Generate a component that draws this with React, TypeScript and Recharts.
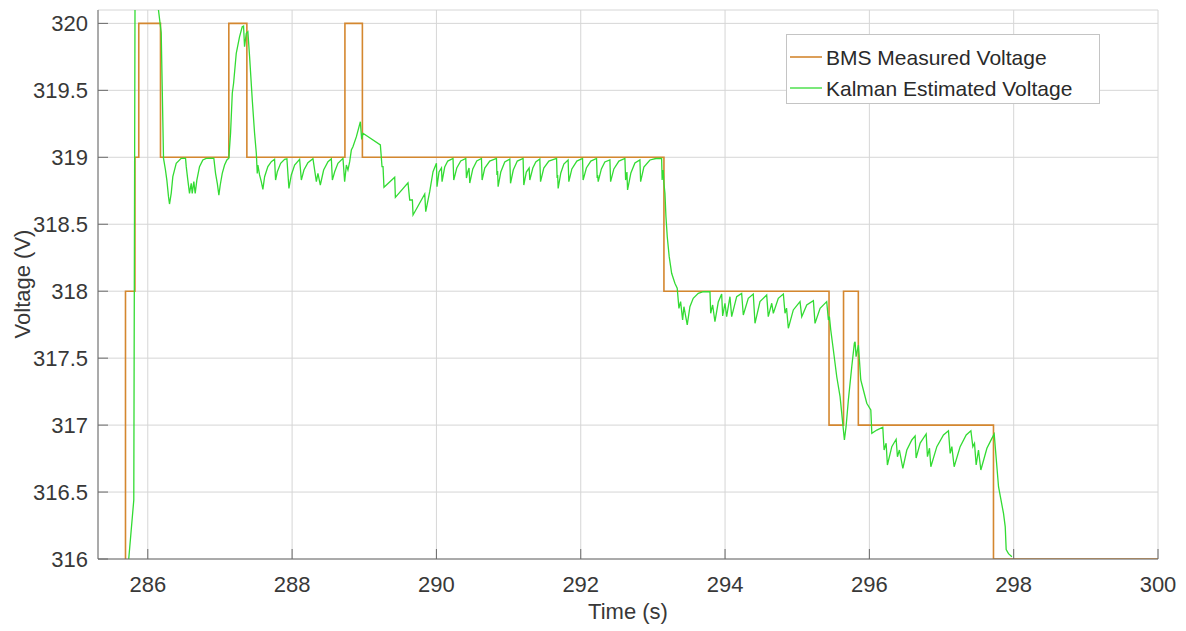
import React from 'react';
import { LineChart, Line, XAxis, YAxis, CartesianGrid, Legend, Label } from 'recharts';

type Pt = [number, number];

const FONT = '"Liberation Sans", Arial, Helvetica, sans-serif';
const TEXT = '#383838';
const AXIS = '#6a6a6a';
const GRID = '#d6d6d6';
const BMS_COLOR = '#D4872F';
const KALMAN_COLOR = '#33DB33';

const timeTicks = [286, 288, 290, 292, 294, 296, 298, 300];
const voltTicks = [316, 316.5, 317, 317.5, 318, 318.5, 319, 319.5, 320];
const timeDomain: [number, number] = [285.31, 300];
const voltDomain: [number, number] = [316, 320.1];

// BMS reading: held value changes (time s, voltage V)
const bmsSteps: Pt[] = [
  [285.31, 315.0], [285.691, 318], [285.822, 319], [285.875, 320], [286.176, 319],
  [287.123, 320], [287.373, 319], [288.732, 320], [288.974, 319], [293.153, 318],
  [295.441, 317], [295.642, 318], [295.847, 317], [297.72, 316], [300.0, 316],
];

// Kalman estimate, start-up transient and first dips
const kalmanStartup: Pt[] = [
  [285.72, 315.9], [285.806, 316.441], [285.825, 320.6], [285.9, 321.0], [286.0, 321.0],
  [286.1, 320.35], [286.148, 320.1], [286.186, 319.93], [286.218, 318.992],
  [286.245, 318.905], [286.264, 318.83], [286.287, 318.706], [286.301, 318.651], [286.325, 318.733],
  [286.347, 318.855], [286.394, 318.955], [286.463, 318.992], [286.523, 318.994],
  [286.533, 318.93], [286.555, 318.83], [286.578, 318.731], [286.602, 318.806], [286.616, 318.731],
  [286.638, 318.818], [286.657, 318.731], [286.68, 318.83], [286.717, 318.93], [286.763, 318.98],
  [286.81, 318.992], [286.915, 318.994],
  [286.939, 318.88], [286.963, 318.806], [286.985, 318.718], [287.004, 318.793], [287.032, 318.88],
  [287.064, 318.942], [287.096, 318.98], [287.123, 318.994],
];

// second overshoot towards 320 V
const kalmanOvershoot: Pt[] = [
  [287.147, 319.179], [287.171, 319.478], [287.189, 319.553], [287.226, 319.777], [287.272, 319.901],
  [287.309, 319.975], [287.327, 319.98], [287.341, 319.826], [287.365, 319.926], [287.387, 319.938],
  [287.411, 319.751], [287.448, 319.428], [287.48, 319.179], [287.504, 319.03], [287.517, 318.88],
];

// ripple around 319 V
const kalmanPlateauA: Pt[] = [
  [287.526, 318.942], [287.549, 318.868], [287.573, 318.818], [287.595, 318.761], [287.619, 318.855],
  [287.664, 318.93], [287.712, 318.967], [287.757, 318.985], [287.771, 318.83], [287.795, 318.892],
  [287.841, 318.955], [287.896, 318.985], [287.928, 318.989], [287.956, 318.768], [287.989, 318.868],
  [288.035, 318.942], [288.104, 318.985], [288.128, 318.83], [288.164, 318.905], [288.219, 318.96],
  [288.289, 318.989], [288.336, 318.818], [288.358, 318.88], [288.391, 318.793], [288.437, 318.905],
  [288.497, 318.967], [288.544, 318.989], [288.558, 318.83], [288.59, 318.892], [288.635, 318.955],
  [288.705, 318.992], [288.728, 318.818],
];

// small bump and sag between 288.7 s and 290 s
const kalmanBump: Pt[] = [
  [288.752, 318.942], [288.774, 318.905], [288.798, 318.967], [288.821, 319.054], [288.843, 319.079],
  [288.891, 319.154], [288.946, 319.266], [288.964, 319.134], [288.982, 319.179], [289.223, 319.092],
  [289.246, 318.93], [289.26, 318.93], [289.273, 318.776], [289.422, 318.851], [289.431, 318.701],
  [289.606, 318.81], [289.63, 318.681], [289.667, 318.681], [289.676, 318.569], [289.838, 318.726],
  [289.852, 318.594], [289.907, 318.743], [289.953, 318.892], [290.0, 318.955],
];

// long ripple at 319 V
const kalmanPlateauB: Pt[] = [
  [290.008, 318.78], [290.036, 318.89], [290.07, 318.92], [290.078, 318.818], [290.115, 318.927],
  [290.157, 318.972], [290.23, 318.991], [290.24, 318.83], [290.282, 318.92], [290.337, 318.972],
  [290.407, 318.991], [290.416, 318.845], [290.434, 318.89], [290.452, 318.92], [290.462, 318.808],
  [290.504, 318.913], [290.559, 318.972], [290.624, 318.991], [290.633, 318.83], [290.67, 318.92],
  [290.739, 318.972], [290.832, 318.991], [290.839, 318.868], [290.848, 318.898], [290.855, 318.78],
  [290.892, 318.89], [290.947, 318.965], [291.017, 318.987], [291.027, 318.806], [291.065, 318.905],
  [291.121, 318.972], [291.201, 318.991], [291.211, 318.793], [291.246, 318.89], [291.285, 318.92],
  [291.294, 318.83], [291.336, 318.92], [291.377, 318.965], [291.433, 318.987], [291.443, 318.818],
  [291.488, 318.92], [291.558, 318.972], [291.665, 318.991], [291.673, 318.845], [291.68, 318.868],
  [291.687, 318.768], [291.724, 318.883], [291.766, 318.95], [291.825, 318.98], [291.835, 318.818],
  [291.877, 318.913], [291.946, 318.972], [292.025, 318.991], [292.033, 318.83], [292.078, 318.92],
  [292.14, 318.972], [292.219, 318.991], [292.228, 318.845], [292.235, 318.868], [292.242, 318.818],
  [292.286, 318.913], [292.334, 318.965], [292.404, 318.98], [292.414, 318.818], [292.459, 318.913],
  [292.529, 318.972], [292.612, 318.991], [292.622, 318.83], [292.64, 318.89], [292.649, 318.756],
  [292.695, 318.883], [292.751, 318.957], [292.82, 318.98], [292.83, 318.818], [292.875, 318.927],
  [292.959, 318.98], [293.042, 318.991], [293.121, 318.992], [293.128, 318.83], [293.135, 318.868],
  [293.143, 318.905],
];

// fall to 318 V
const kalmanDrop318: Pt[] = [
  [293.153, 318.806], [293.167, 318.731], [293.181, 318.556], [293.199, 318.407], [293.226, 318.258],
  [293.26, 318.134], [293.305, 318.059], [293.337, 318.022],
];

// ripple at 318 V
const kalmanPlateau318: Pt[] = [
  [293.361, 317.872], [293.384, 317.922], [293.412, 317.785], [293.43, 317.884], [293.476, 317.748],
  [293.513, 317.884], [293.559, 317.947], [293.629, 317.984], [293.698, 317.996], [293.791, 317.996],
  [293.801, 317.835], [293.828, 317.897], [293.86, 317.772], [293.906, 317.919], [293.953, 317.979],
  [293.967, 317.815], [293.999, 317.91], [294.022, 317.81], [294.068, 317.959], [294.092, 317.81],
  [294.161, 317.959], [294.23, 317.984], [294.253, 317.822], [294.322, 317.947], [294.391, 317.979],
  [294.415, 317.76], [294.484, 317.922], [294.577, 317.972], [294.599, 317.81], [294.647, 317.91],
  [294.669, 317.835], [294.738, 317.947], [294.808, 317.979], [294.831, 317.835], [294.852, 317.874],
  [294.877, 317.723], [294.946, 317.86], [295.039, 317.922], [295.063, 317.81], [295.132, 317.897],
  [295.224, 317.929], [295.247, 317.76], [295.317, 317.872], [295.409, 317.922], [295.432, 317.785],
  [295.446, 317.81],
];

// dip, rebound and fall to 317 V
const kalmanDrop317: Pt[] = [
  [295.465, 317.71], [295.501, 317.561], [295.548, 317.361], [295.594, 317.212], [295.631, 317.013],
  [295.654, 316.889], [295.677, 316.988], [295.709, 317.187], [295.756, 317.436], [295.792, 317.611],
  [295.802, 317.623], [295.816, 317.511], [295.848, 317.598], [295.881, 317.337], [295.917, 317.262],
  [295.964, 317.163], [296.02, 317.113],
];

// ripple at 317 V
const kalmanPlateau317: Pt[] = [
  [296.034, 316.939], [296.103, 316.963], [296.186, 316.984], [296.204, 316.814], [296.232, 316.864],
  [296.25, 316.702], [296.311, 316.839], [296.371, 316.894], [296.389, 316.764], [296.416, 316.814],
  [296.464, 316.677], [296.519, 316.814], [296.588, 316.889], [296.634, 316.919], [296.648, 316.754],
  [296.704, 316.866], [296.787, 316.934], [296.805, 316.764], [296.833, 316.827], [296.852, 316.689],
  [296.935, 316.839], [297.027, 316.926], [297.096, 316.958], [297.12, 316.789], [297.143, 316.839],
  [297.175, 316.689], [297.258, 316.839], [297.342, 316.926], [297.407, 316.958], [297.434, 316.839],
  [297.457, 316.864], [297.48, 316.702], [297.512, 316.814], [297.545, 316.665], [297.629, 316.827],
  [297.698, 316.901], [297.73, 316.934],
];

// final fall to 316 V
const kalmanDrop316: Pt[] = [
  [297.79, 316.54], [297.859, 316.34], [297.883, 316.24], [297.896, 316.07], [297.928, 316.04],
  [297.975, 316.017],
];

const toRows = (pts: Pt[]) => pts.map(([t, v]) => ({ t, v }));

const bmsData = toRows(bmsSteps);
const kalmanData = toRows([
  ...kalmanStartup,
  ...kalmanOvershoot,
  ...kalmanPlateauA,
  ...kalmanBump,
  ...kalmanPlateauB,
  ...kalmanDrop318,
  ...kalmanPlateau318,
  ...kalmanDrop317,
  ...kalmanPlateau317,
  ...kalmanDrop316,
]);

const legendItems = [
  { name: 'BMS Measured Voltage', color: BMS_COLOR, width: 1.6 },
  { name: 'Kalman Estimated Voltage', color: KALMAN_COLOR, width: 1.3 },
];

const LegendBox = () => (
  <div
    style={{
      width: 314,
      height: 70,
      boxSizing: 'border-box',
      border: '1px solid #c4c4c4',
      background: '#ffffff',
      position: 'relative',
    }}
  >
    <svg width={312} height={68} style={{ position: 'absolute', left: 0, top: 0 }}>
      {legendItems.map((item, i) => {
        const y = 22 + i * 31;
        return (
          <g key={item.name}>
            <line x1={3} x2={35} y1={y} y2={y} stroke={item.color} strokeWidth={item.width} />
            <text
              x={39}
              y={y}
              dominantBaseline="central"
              fontFamily={FONT}
              fontSize={21}
              fill="#2a2a2a"
            >
              {item.name}
            </text>
          </g>
        );
      })}
    </svg>
  </div>
);

const tickStyle = { fontFamily: FONT, fontSize: 22, fill: TEXT };

export default function App() {
  return (
    <LineChart width={1178} height={623} margin={{ top: 2, right: 28, bottom: 0, left: 0 }}>
      <CartesianGrid stroke={GRID} strokeWidth={1} />
      <XAxis
        dataKey="t"
        type="number"
        domain={timeDomain}
        ticks={timeTicks}
        allowDataOverflow
        height={72}
        tick={tickStyle}
        tickSize={-10}
        tickMargin={27}
        axisLine={{ stroke: AXIS }}
        tickLine={{ stroke: AXIS }}
      >
        <Label
          content={(props: any) => {
            const vb = props.viewBox || { x: 90, width: 1060 };
            return (
              <text
                x={vb.x + vb.width / 2}
                y={611}
                textAnchor="middle"
                fontFamily={FONT}
                fontSize={22}
                fill={TEXT}
              >
                Time (s)
              </text>
            );
          }}
        />
      </XAxis>
      <XAxis
        xAxisId="top"
        orientation="top"
        dataKey="t"
        type="number"
        domain={timeDomain}
        ticks={timeTicks}
        allowDataOverflow
        height={0}
        tick={false}
        tickSize={-10}
        axisLine={{ stroke: AXIS }}
        tickLine={{ stroke: AXIS }}
      />
      <YAxis
        type="number"
        domain={voltDomain}
        ticks={voltTicks}
        allowDataOverflow
        width={90}
        tick={tickStyle}
        tickSize={-10}
        tickMargin={20}
        tickFormatter={(v: number) => String(v)}
        axisLine={{ stroke: AXIS }}
        tickLine={{ stroke: AXIS }}
      >
        <Label
          content={() => (
            <text
              x={14}
              y={276}
              transform="rotate(-90, 14, 276)"
              textAnchor="middle"
              dominantBaseline="central"
              fontFamily={FONT}
              fontSize={22}
              fill={TEXT}
            >
              Voltage (V)
            </text>
          )}
        />
      </YAxis>
      <YAxis
        yAxisId="right"
        orientation="right"
        type="number"
        domain={voltDomain}
        ticks={voltTicks}
        allowDataOverflow
        width={0}
        tick={false}
        tickSize={-10}
        axisLine={{ stroke: AXIS }}
        tickLine={{ stroke: AXIS }}
      />
      <Legend
        layout="horizontal"
        verticalAlign="middle"
        align="center"
        content={() => <LegendBox />}
        wrapperStyle={{ left: 778, top: 26, width: 314, height: 70 }}
      />
      <Line
        data={bmsData}
        dataKey="v"
        type="stepAfter"
        stroke={BMS_COLOR}
        strokeWidth={1.6}
        dot={false}
        activeDot={false}
        isAnimationActive={false}
        name="BMS Measured Voltage"
      />
      <Line
        data={kalmanData}
        dataKey="v"
        type="linear"
        stroke={KALMAN_COLOR}
        strokeWidth={1.3}
        dot={false}
        activeDot={false}
        isAnimationActive={false}
        name="Kalman Estimated Voltage"
      />
    </LineChart>
  );
}
